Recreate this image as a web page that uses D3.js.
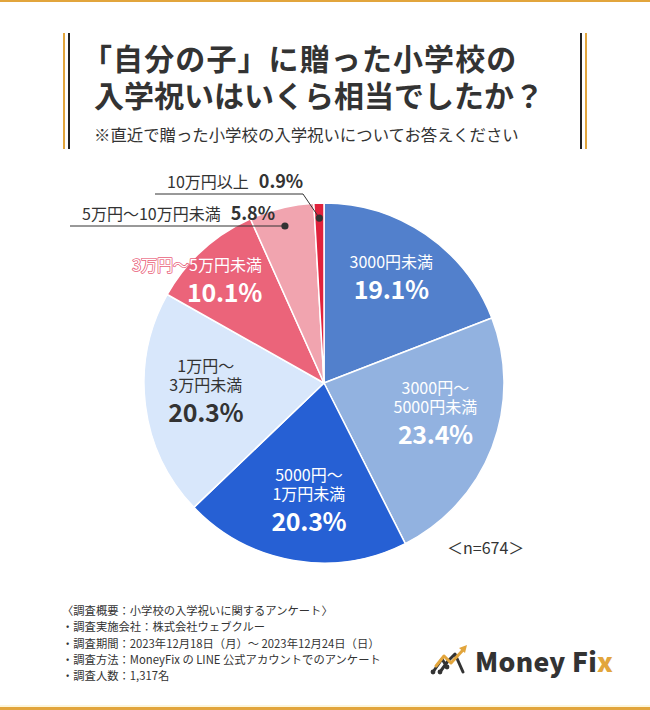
<!DOCTYPE html>
<html>
<head>
<meta charset="utf-8">
<script src="https://cdn.jsdelivr.net/npm/d3@7"></script>
<style>
  html, body { margin: 0; padding: 0; background: #fff; }
  svg { display: block; }
  text { font-family: "Noto Sans CJK JP", "Noto Sans", sans-serif; }
</style>
</head>
<body>
<svg id="chart" width="650" height="710"></svg>
<script>
// ---- data ----
const categories = ["3000円未満", "3000円〜5000円未満", "5000円〜1万円未満", "1万円〜3万円未満", "3万円〜5万円未満", "5万円〜10万円未満", "10万円以上"];
const labelLines = [["3000円未満"], ["3000円〜", "5000円未満"], ["5000円〜", "1万円未満"], ["1万円〜", "3万円未満"], ["3万円〜5万円未満"], ["5万円〜10万円未満"], ["10万円以上"]];
const values = [19.1, 23.4, 20.3, 20.3, 10.1, 5.8, 0.9];
const colors = ["#5280cc", "#92b2e0", "#2660d4", "#d8e7fb", "#eb647a", "#f1a4af", "#e0223c"];
const titleLines = ["「自分の子」に贈った小学校の", "入学祝いはいくら相当でしたか？"];
const subtitle = "※直近で贈った小学校の入学祝いについてお答えください";
const sampleNote = "＜n=674＞";
const footerLines = [
  "〈調査概要：小学校の入学祝いに関するアンケート〉",
  "・調査実施会社：株式会社ウェブクルー",
  "・調査期間：2023年12月18日（月）〜 2023年12月24日（日）",
  "・調査方法：MoneyFix の LINE 公式アカウントでのアンケート",
  "・調査人数：1,317名"
];

// ---- layout ----
const W = 650, H = 710;
const cx = 324, cy = 383, R = 180;
const gold = "#e2a53c", dark = "#333333";
// inner label placement: angle (deg, clockwise from top) and radius of the percentage line
const inLabel = [
  {a: 35.8, r: 115, fill: "#fff", anchor: "middle"},
  {a: 115.1, r: 123, fill: "#fff", anchor: "middle"},
  {a: 186.2, r: 140, fill: "#fff", anchor: "middle"},
  {a: 255.7, r: 122, fill: dark, anchor: "middle"},
  {a: 313.5, r: 131, fill: "#fff", anchor: "end"}
];

const svg = d3.select("#chart");
svg.append("rect").attr("width", W).attr("height", H).attr("fill", "#fff");
// top / bottom rules
svg.append("rect").attr("x", 0).attr("y", 0).attr("width", W).attr("height", 2).attr("fill", gold);
svg.append("rect").attr("x", 0).attr("y", 705).attr("width", W).attr("height", 2).attr("fill", "#fdf6dc");
svg.append("rect").attr("x", 0).attr("y", 707).attr("width", W).attr("height", 3).attr("fill", gold);

// title frame bars
[[64, gold], [69, "#222"], [581, "#222"], [586, gold]].forEach(([x, c]) => {
  svg.append("rect").attr("x", x - 1).attr("y", 33).attr("width", 2).attr("height", 116).attr("fill", c);
});

svg.selectAll("text.title").data(titleLines).join("text")
  .attr("class", "title")
  .attr("x", (d, i) => i === 0 ? 82 : 94)
  .attr("y", (d, i) => 70 + i * 37)
  .attr("font-size", 30).attr("font-weight", 700).attr("fill", dark)
  .attr("letter-spacing", (d, i) => i === 0 ? 1.1 : 0)
  .text(d => d);

svg.append("text").attr("x", 94).attr("y", 141)
  .attr("font-size", 16.4).attr("fill", dark).text(subtitle);

// ---- pie ----
const pie = d3.pie().sort(null).value(d => d).startAngle(0).endAngle(2 * Math.PI);
const arcs = pie(values);
const arc = d3.arc().innerRadius(0).outerRadius(R);
const g = svg.append("g").attr("transform", `translate(${cx},${cy})`);
g.selectAll("path").data(arcs).join("path")
  .attr("d", arc)
  .attr("fill", (d, i) => colors[i])
  .attr("stroke", "#fff").attr("stroke-width", 1.5).attr("stroke-linejoin", "round");

function polar(aDeg, r) {
  const a = aDeg * Math.PI / 180;
  return [Math.sin(a) * r, -Math.cos(a) * r];
}
const fmt = v => v.toFixed(1) + "%";

// inner labels
inLabel.forEach((L, i) => {
  const [px, py] = polar(L.a, L.r);
  const lines = labelLines[i];
  const lg = g.append("g");
  let ax = px;
  if (L.anchor === "end") ax = px + 33;
  lines.forEach((t, k) => {
    const yCenter = py - 28 - (lines.length - 1 - k) * 19.5;
    const tx = lg.append("text")
      .attr("x", ax).attr("y", yCenter + 6)
      .attr("text-anchor", L.anchor)
      .attr("font-size", 16).attr("fill", L.fill)
      .text(t);
    if (i === 4) {
      tx.attr("stroke", "#e9607a").attr("stroke-width", 1.6)
        .attr("paint-order", "stroke").attr("stroke-linejoin", "round");
    }
  });
  lg.append("text")
    .attr("x", ax).attr("y", py + 9)
    .attr("text-anchor", L.anchor)
    .attr("font-size", 25).attr("font-weight", 700).attr("fill", L.fill)
    .attr("letter-spacing", -0.3)
    .text(fmt(values[i]));
});

// outer labels with leader lines (slices 5 and 6)
const outer = [
  {i: 5, lineY: 226, lineX0: 70, bend: null, textX: 82},
  {i: 6, lineY: 194, lineX0: 155, bend: 303, textX: 167}
];
outer.forEach(o => {
  const d = arcs[o.i];
  const mid = (d.startAngle + d.endAngle) / 2 * 180 / Math.PI;
  const [dx, dy] = polar(mid, 165);
  const px = cx + dx, py = cy + dy;
  const pts = o.bend === null ? [[o.lineX0, o.lineY], [px, o.lineY]] : [[o.lineX0, o.lineY], [o.bend, o.lineY], [px, py]];
  svg.append("path").attr("d", d3.line()(pts)).attr("fill", "none").attr("stroke", dark).attr("stroke-width", 1);
  svg.append("circle").attr("cx", px).attr("cy", o.bend === null ? o.lineY : py).attr("r", 3.6).attr("fill", dark);
  const t = svg.append("text").attr("x", o.textX).attr("y", o.lineY - 6).attr("fill", dark);
  t.append("tspan").attr("font-size", 16).text(labelLines[o.i][0]);
  t.append("tspan").attr("dx", 10).attr("font-size", 18).attr("font-weight", 700).text(fmt(values[o.i]));
});

// n note
svg.append("text").attr("x", 447).attr("y", 554).attr("font-size", 16).attr("fill", dark).text(sampleNote);

// footer
svg.selectAll("text.foot").data(footerLines).join("text")
  .attr("class", "foot")
  .attr("x", 62).attr("y", (d, i) => 615 + i * 16.3)
  .attr("font-size", 11.3).attr("fill", dark)
  .text(d => d);

// logo
const logo = svg.append("g");
logo.append("path").attr("d", "M433,672 L442,659 L447,667 M440,672 L448,661 L455,654 L463,672")
  .attr("fill", "none").attr("stroke", "#333").attr("stroke-width", 3).attr("stroke-linecap", "round").attr("stroke-linejoin", "round");
[[433,672],[440,672],[447,667]].forEach(([x,y]) => logo.append("circle").attr("cx", x).attr("cy", y).attr("r", 2.4).attr("fill", "#333"));
logo.append("path").attr("d", "M436,666 L444,656 L451,663 L463,650")
  .attr("fill", "none").attr("stroke", gold).attr("stroke-width", 3).attr("stroke-linecap", "round").attr("stroke-linejoin", "round");
logo.append("path").attr("d", "M459,648 L467,645 L465,653 Z").attr("fill", gold);
const lt = logo.append("text").attr("x", 475).attr("y", 672)
  .attr("font-family", "Lato, 'Noto Sans', sans-serif").attr("font-weight", 900).attr("font-size", 26.5).attr("fill", "#333")
  .attr("letter-spacing", 0.3);
lt.append("tspan").text("Money Fi");
lt.append("tspan").attr("fill", gold).text("x");
</script>
</body>
</html>
